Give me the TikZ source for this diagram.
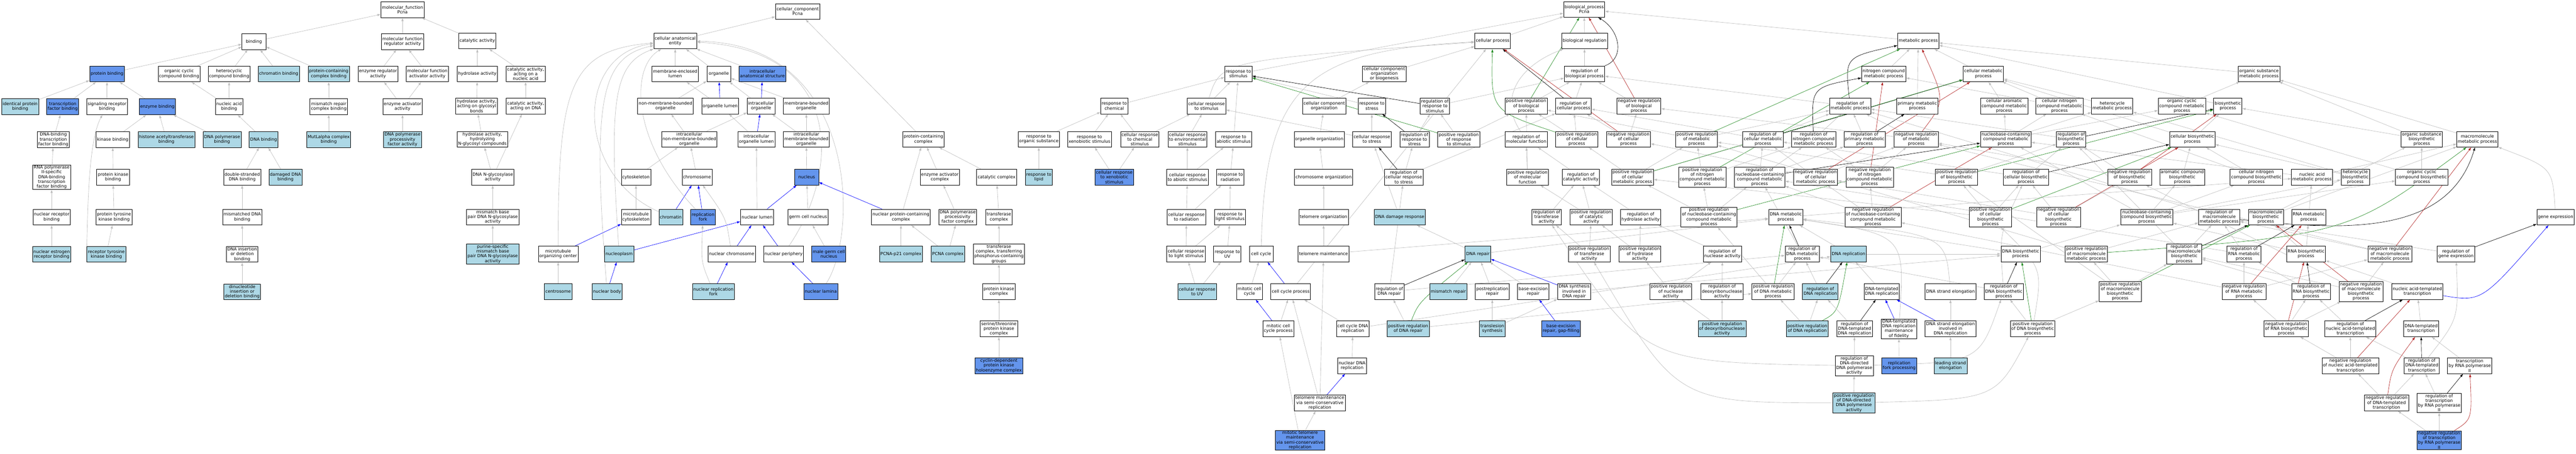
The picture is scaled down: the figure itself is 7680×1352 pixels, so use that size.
\documentclass[tikz,border=0pt]{standalone}
\usepackage{fontspec}
\setmainfont{DejaVu Sans}
\usetikzlibrary{arrows.meta}
\definecolor{termlight}{HTML}{ADD8E6}
\definecolor{termdark}{HTML}{6495ED}
\definecolor{edgegray}{HTML}{BEBEBE}
\definecolor{partblue}{HTML}{0000FF}
\definecolor{posgreen}{HTML}{228B22}
\definecolor{negred}{HTML}{B22222}
\pgfdeclarelayer{edges}
\pgfsetlayers{edges,main}
\tikzset{%
	term/.style   = {draw, line width=1pt, fill=white, align=center, minimum width=71pt, minimum height=47pt, inner xsep=3pt, inner ysep=2pt, font=\fontsize{12.8}{14.2}\selectfont},
	lbterm/.style = {term, fill=termlight},
	rbterm/.style = {term, fill=termdark},
	isa/.style    = {draw=edgegray, line width=1pt, -{Latex[length=10pt,width=7pt]}},
	partof/.style = {isa, draw=partblue},
	regul/.style  = {isa, draw=black},
	posreg/.style = {isa, draw=posgreen},
	negreg/.style = {isa, draw=negred},
}
\begin{document}
\begin{tikzpicture}[x=1pt,y=-1pt]
	\useasboundingbox (0,0) rectangle (7680,1352);
	\begin{pgfonlayer}{edges}
	\fill[white] (0,0) rectangle (7680,1352);
	\end{pgfonlayer}
	
	% molecular function
	\node[term] (mf) at (1200,29) {molecular\_function\\Pcna};
	\node[term] (bind) at (757,124) {binding};
	\node[term] (mfra) at (1200,124) {molecular function\\regulator activity};
	\node[term] (catact) at (1423,122) {catalytic activity};
	\node[rbterm] (pb) at (319,220) {protein binding};
	\node[term] (occb) at (534,220) {organic cyclic\\compound binding};
	\node[term] (hcb) at (683,220) {heterocyclic\\compound binding};
	\node[lbterm] (chrb) at (831,220) {chromatin binding};
	\node[lbterm] (pccb) at (980,220) {protein-containing\\complex binding};
	\node[term] (era) at (1127,220) {enzyme regulator\\activity};
	\node[term] (mfaa) at (1274,220) {molecular function\\activator activity};
	\node[lbterm] (ipb) at (60,318) {identical protein\\binding};
	\node[rbterm] (tfb) at (187,318) {transcription\\factor binding};
	\node[term] (srb) at (319,318) {signaling receptor\\binding};
	\node[rbterm] (eb) at (469,318) {enzyme binding};
	\node[term] (nab) at (683,318) {nucleic acid\\binding};
	\node[term] (mrcb) at (980,318) {mismatch repair\\complex binding};
	\node[term] (eaa) at (1200,318) {enzyme activator\\activity};
	\node[term] (dbtfb) at (159,416) {DNA-binding\\transcription\\factor binding};
	\node[term] (kb) at (336,416) {kinase binding};
	\node[lbterm] (hatb) at (496,416) {histone acetyltransferase\\binding};
	\node[lbterm] (dpb) at (662,416) {DNA polymerase\\binding};
	\node[lbterm] (db) at (786,416) {DNA binding};
	\node[lbterm] (mutl) at (980,416) {MutLalpha complex\\binding};
	\node[lbterm] (dppfa) at (1200,416) {DNA polymerase\\processivity\\factor activity};
	\node[term] (rp2tfb) at (154,528) {RNA polymerase\\II-specific\\DNA-binding\\transcription\\factor binding};
	\node[term] (pkb) at (337,528) {protein kinase\\binding};
	\node[term] (dsdb) at (722,528) {double-stranded\\DNA binding};
	\node[lbterm] (ddb) at (851,528) {damaged DNA\\binding};
	\node[term] (nrb) at (154,647) {nuclear receptor\\binding};
	\node[term] (ptkb) at (340,647) {protein tyrosine\\kinase binding};
	\node[term] (mmdb) at (722,647) {mismatched DNA\\binding};
	\node[lbterm] (nerb) at (154,758) {nuclear estrogen\\receptor binding};
	\node[lbterm] (rtkb) at (317,758) {receptor tyrosine\\kinase binding};
	\node[term] (didb) at (722,758) {DNA insertion\\or deletion\\binding};
	\node[lbterm] (dnidb) at (722,870) {dinucleotide\\insertion or\\deletion binding};
	
	% catalytic activity
	\node[term] (hydact) at (1423,220) {hydrolase activity};
	\node[term] (canuc) at (1567,220) {catalytic activity,\\acting on a\\nucleic acid};
	\node[term] (hagb) at (1421,316) {hydrolase activity,\\acting on glycosyl\\bonds};
	\node[term] (cadna) at (1567,316) {catalytic activity,\\acting on DNA};
	\node[term] (hnglyc) at (1438,415) {hydrolase activity,\\hydrolyzing\\N-glycosyl compounds};
	\node[term] (dnag) at (1469,528) {DNA N-glycosylase\\activity};
	\node[term] (mmbp) at (1469,647) {mismatch base\\pair DNA N-glycosylase\\activity};
	\node[lbterm] (psmbp) at (1469,757) {purine-specific\\mismatch base\\pair DNA N-glycosylase\\activity};
	
	% cellular component
	\node[term] (ccomp) at (2378,34) {cellular\_component\\Pcna};
	\node[term] (cae) at (2013,122) {cellular anatomical\\entity};
	\node[term] (mel) at (2013,220) {membrane-enclosed\\lumen};
	\node[term] (org) at (2143,220) {organelle};
	\node[rbterm] (ias) at (2273,220) {intracellular\\anatomical structure};
	\node[term] (nmbo) at (1984,316) {non-membrane-bounded\\organelle};
	\node[term] (orgl) at (2147,316) {organelle lumen};
	\node[term] (io) at (2269,316) {intracellular\\organelle};
	\node[term] (mbo) at (2404,316) {membrane-bounded\\organelle};
	\node[term] (inmbo) at (2055,415) {intracellular\\non-membrane-bounded\\organelle};
	\node[term] (iol) at (2255,415) {intracellular\\organelle lumen};
	\node[term] (imbo) at (2404,415) {intracellular\\membrane-bounded\\organelle};
	\node[term] (cysk) at (1896,528) {cytoskeleton};
	\node[term] (chrom) at (2078,528) {chromosome};
	\node[rbterm] (nucl) at (2405,528) {nucleus};
	\node[term] (mtcysk) at (1896,647) {microtubule\\cytoskeleton};
	\node[lbterm] (chrtin) at (2000,647) {chromatin};
	\node[rbterm] (rfork) at (2096,647) {replication\\fork};
	\node[term] (nlumen) at (2257,647) {nuclear lumen};
	\node[term] (gcn) at (2409,647) {germ cell nucleus};
	\node[term] (mtoc) at (1664,757) {microtubule\\organizing center};
	\node[lbterm] (nplasm) at (1846,757) {nucleoplasm};
	\node[term] (nchrom) at (2181,757) {nuclear chromosome};
	\node[term] (nper) at (2336,757) {nuclear periphery};
	\node[rbterm] (mgcn) at (2471,757) {male germ cell\\nucleus};
	\node[lbterm] (csome) at (1664,869) {centrosome};
	\node[lbterm] (nbody) at (1810,869) {nuclear body};
	\node[lbterm] (nrfork) at (2127,869) {nuclear replication\\fork};
	\node[rbterm] (nlam) at (2447,869) {nuclear lamina};
	\node[term] (pcc) at (2753,415) {protein-containing\\complex};
	\node[term] (eac) at (2802,528) {enzyme activator\\complex};
	\node[term] (catc) at (2971,528) {catalytic complex};
	\node[term] (npcc) at (2686,647) {nuclear protein-containing\\complex};
	\node[term] (dppfc) at (2855,647) {DNA polymerase\\processivity\\factor complex};
	\node[term] (trc) at (2978,647) {transferase\\complex};
	\node[lbterm] (p21) at (2686,757) {PCNA-p21 complex};
	\node[lbterm] (pcnac) at (2826,757) {PCNA complex};
	\node[term] (trcp) at (2978,757) {transferase\\complex, transferring\\phosphorus-containing\\groups};
	\node[term] (pkc) at (2978,869) {protein kinase\\complex};
	\node[term] (stpkc) at (2978,980) {serine/threonine\\protein kinase\\complex};
	\node[rbterm] (cdk) at (2978,1090) {cyclin-dependent\\protein kinase\\holoenzyme complex};
	
	% biological process: responses
	\node[term] (rstim) at (3692,220) {response to\\stimulus};
	\node[term] (rchem) at (3322,316) {response to\\chemical};
	\node[term] (crstim) at (3597,316) {cellular response\\to stimulus};
	\node[term] (rorg) at (3097,415) {response to\\organic substance};
	\node[term] (rxeno) at (3248,415) {response to\\xenobiotic stimulus};
	\node[term] (crchem) at (3398,415) {cellular response\\to chemical\\stimulus};
	\node[term] (crenv) at (3540,415) {cellular response\\to environmental\\stimulus};
	\node[term] (rabio) at (3678,415) {response to\\abiotic stimulus};
	\node[lbterm] (rlipid) at (3097,528) {response to\\lipid};
	\node[rbterm] (crxeno) at (3322,528) {cellular response\\to xenobiotic\\stimulus};
	\node[term] (crabio) at (3540,528) {cellular response\\to abiotic stimulus};
	\node[term] (rrad) at (3668,528) {response to\\radiation};
	\node[term] (crrad) at (3537,647) {cellular response\\to radiation};
	\node[term] (rlight) at (3667,647) {response to\\light stimulus};
	\node[term] (crlight) at (3536,757) {cellular response\\to light stimulus};
	\node[term] (ruv) at (3659,757) {response to\\UV};
	\node[lbterm] (cruv) at (3569,869) {cellular response\\to UV};
	\node[term] (cc) at (3760,757) {cell cycle};
	\node[term] (mcc) at (3725,869) {mitotic cell\\cycle};
	\node[term] (ccp) at (3848,869) {cell cycle process};
	\node[term] (mccp) at (3811,980) {mitotic cell\\cycle process};
	\node[rbterm] (mtmsc) at (3876,1312) {mitotic telomere\\maintenance\\via semi-conservative\\replication};
	
	% biological process: upper levels
	\node[term] (bp) at (4723,28) {biological\_process\\Pcna};
	\node[term] (cp) at (4450,122) {cellular process};
	\node[term] (breg) at (4724,122) {biological regulation};
	\node[term] (ccob) at (4127,220) {cellular component\\organization\\or biogenesis};
	\node[term] (rbp) at (4724,220) {regulation of\\biological process};
	\node[term] (cco) at (3948,316) {cellular component\\organization};
	\node[term] (rstress) at (4090,316) {response to\\stress};
	\node[term] (rrs) at (4278,316) {regulation of\\response to\\stimulus};
	\node[term] (prbp) at (4550,316) {positive regulation\\of biological\\process};
	\node[term] (rcp) at (4691,316) {regulation of\\cellular process};
	\node[term] (nrbp) at (4886,316) {negative regulation\\of biological\\process};
	\node[term] (oo) at (3933,415) {organelle organization};
	\node[term] (crstress) at (4090,415) {cellular response\\to stress};
	\node[term] (rrstress) at (4217,415) {regulation of\\response to\\stress};
	\node[term] (prrs) at (4349,415) {positive regulation\\of response\\to stimulus};
	\node[term] (rmf) at (4550,415) {regulation of\\molecular function};
	\node[term] (prcp) at (4701,415) {positive regulation\\of cellular\\process};
	\node[term] (nrcp) at (4855,415) {negative regulation\\of cellular\\process};
	\node[term] (prmp) at (5058,415) {positive regulation\\of metabolic\\process};
	\node[term] (chro) at (3946,528) {chromosome organization};
	\node[term] (rcrs) at (4185,528) {regulation of\\cellular response\\to stress};
	\node[term] (prmf) at (4554,528) {positive regulation\\of molecular\\function};
	\node[term] (rca) at (4713,528) {regulation of\\catalytic activity};
	\node[term] (prcmp) at (4867,528) {positive regulation\\of cellular\\metabolic process};
	\node[term] (prncmp) at (5075,528) {positive regulation\\of nitrogen\\compound metabolic\\process};
	\node[term] (telo) at (3946,647) {telomere organization};
	\node[lbterm] (ddr) at (4173,647) {DNA damage response};
	\node[term] (rta) at (4611,647) {regulation of\\transferase\\activity};
	\node[term] (prca) at (4744,647) {positive regulation\\of catalytic\\activity};
	\node[term] (rha) at (4891,647) {regulation of\\hydrolase activity};
	\node[term] (prnbcmp) at (5095,647) {positive regulation\\of nucleobase-containing\\compound metabolic\\process};
	\node[term] (telm) at (3946,757) {telomere maintenance};
	\node[lbterm] (drep) at (4406,757) {DNA repair};
	\node[term] (prta) at (4738,757) {positive regulation\\of transferase\\activity};
	\node[term] (prha) at (4889,757) {positive regulation\\of hydrolase\\activity};
	\node[term] (rnuc) at (5135,757) {regulation of\\nuclease activity};
	\node[term] (rdrep) at (4142,869) {regulation of\\DNA repair};
	\node[lbterm] (mmr) at (4318,869) {mismatch repair};
	\node[term] (prr) at (4449,869) {postreplication\\repair};
	\node[term] (ber) at (4571,869) {base-excision\\repair};
	\node[term] (dsdr) at (4693,869) {DNA synthesis\\involved in\\DNA repair};
	\node[term] (prnuc) at (4981,869) {positive regulation\\of nuclease\\activity};
	\node[term] (rdnase) at (5134,869) {regulation of\\deoxyribonuclease\\activity};
	\node[term] (ccdr) at (4033,980) {cell cycle DNA\\replication};
	\node[lbterm] (prdrep) at (4198,980) {positive regulation\\of DNA repair};
	\node[lbterm] (tls) at (4449,980) {translesion\\synthesis};
	\node[rbterm] (bergf) at (4654,980) {base-excision\\repair, gap-filling};
	\node[lbterm] (prdnase) at (5134,980) {positive regulation\\of deoxyribonuclease\\activity};
	\node[term] (ndr) at (4031,1090) {nuclear DNA\\replication};
	\node[term] (tmsc) at (3935,1201) {telomere maintenance\\via semi-conservative\\replication};
	
	% biological process: metabolism
	\node[term] (mp) at (5719,122) {metabolic process};
	\node[term] (ncmp) at (5616,220) {nitrogen compound\\metabolic process};
	\node[term] (cmp) at (5913,220) {cellular metabolic\\process};
	\node[term] (osmp) at (6735,220) {organic substance\\metabolic process};
	\node[term] (rmp) at (5516,316) {regulation of\\metabolic process};
	\node[term] (pmp) at (5716,316) {primary metabolic\\process};
	\node[term] (cacmp) at (5975,316) {cellular aromatic\\compound metabolic\\process};
	\node[term] (cncmp) at (6140,316) {cellular nitrogen\\compound metabolic\\process};
	\node[term] (hmp) at (6297,316) {heterocycle\\metabolic process};
	\node[term] (occmp) at (6505,316) {organic cyclic\\compound metabolic\\process};
	\node[term] (bsp) at (6642,316) {biosynthetic\\process};
	\node[term] (rcmp) at (5256,415) {regulation of\\cellular metabolic\\process};
	\node[term] (rncmp) at (5407,415) {regulation of\\nitrogen compound\\metabolic process};
	\node[term] (rpmp) at (5559,415) {regulation of\\primary metabolic\\process};
	\node[term] (nrmp) at (5713,415) {negative regulation\\of metabolic\\process};
	\node[term] (nbcmp) at (5980,415) {nucleobase-containing\\compound metabolic\\process};
	\node[term] (rbsp) at (6175,415) {regulation of\\biosynthetic\\process};
	\node[term] (cbsp) at (6536,415) {cellular biosynthetic\\process};
	\node[term] (osbsp) at (7220,415) {organic substance\\biosynthetic\\process};
	\node[term] (mmp) at (7386,415) {macromolecule\\metabolic process};
	\node[term] (rnbcmp) at (5246,528) {regulation of\\nucleobase-containing\\compound metabolic\\process};
	\node[term] (nrcmp) at (5413,528) {negative regulation\\of cellular\\metabolic process};
	\node[term] (nrncmp) at (5574,528) {negative regulation\\of nitrogen\\compound metabolic\\process};
	\node[term] (prbsp) at (5833,528) {positive regulation\\of biosynthetic\\process};
	\node[term] (rcbsp) at (6040,528) {regulation of\\cellular biosynthetic\\process};
	\node[term] (nrbsp) at (6349,528) {negative regulation\\of biosynthetic\\process};
	\node[term] (acbsp) at (6506,528) {aromatic compound\\biosynthetic\\process};
	\node[term] (cncbsp) at (6727,528) {cellular nitrogen\\compound biosynthetic\\process};
	\node[term] (namp) at (6893,528) {nucleic acid\\metabolic process};
	\node[term] (hbsp) at (7022,528) {heterocycle\\biosynthetic\\process};
	\node[term] (occbsp) at (7220,528) {organic cyclic\\compound biosynthetic\\process};
	\node[term] (dmp) at (5324,647) {DNA metabolic\\process};
	\node[term] (nrnbcmp) at (5584,647) {negative regulation\\of nucleobase-containing\\compound metabolic\\process};
	\node[term] (prcbsp) at (5934,647) {positive regulation\\of cellular\\biosynthetic\\process};
	\node[term] (nrcbsp) at (6137,647) {negative regulation\\of cellular\\biosynthetic\\process};
	\node[term] (nbcbsp) at (6400,647) {nucleobase-containing\\compound biosynthetic\\process};
	\node[term] (rmmp) at (6616,647) {regulation of\\macromolecule\\metabolic process};
	\node[term] (mbsp) at (6755,647) {macromolecule\\biosynthetic\\process};
	\node[term] (rnamp) at (6883,647) {RNA metabolic\\process};
	\node[term] (gexp) at (7619,647) {gene expression};
	\node[term] (rdmp) at (5373,757) {regulation of\\DNA metabolic\\process};
	\node[lbterm] (dnarep) at (5511,757) {DNA replication};
	\node[term] (dbsp) at (6024,757) {DNA biosynthetic\\process};
	\node[term] (prmmp) at (6220,757) {positive regulation\\of macromolecule\\metabolic process};
	\node[term] (rmbsp) at (6512,757) {regulation of\\macromolecule\\biosynthetic\\process};
	\node[term] (rrnamp) at (6690,757) {regulation of\\RNA metabolic\\process};
	\node[term] (rnabsp) at (6875,757) {RNA biosynthetic\\process};
	\node[term] (nrmmp) at (7125,757) {negative regulation\\of macromolecule\\metabolic process};
	\node[term] (rgexp) at (7322,757) {regulation of\\gene expression};
	\node[term] (prdmp) at (5286,869) {positive regulation\\of DNA metabolic\\process};
	\node[lbterm] (rdrepl) at (5427,869) {regulation of\\DNA replication};
	\node[term] (dtdr) at (5610,869) {DNA-templated\\DNA replication};
	\node[term] (dse) at (5815,869) {DNA strand elongation};
	\node[term] (rdbsp) at (5974,869) {regulation of\\DNA biosynthetic\\process};
	\node[term] (prmbsp) at (6321,869) {positive regulation\\of macromolecule\\biosynthetic\\process};
	\node[term] (nrrnamp) at (6690,869) {negative regulation\\of RNA metabolic\\process};
	\node[term] (rrnabsp) at (6890,869) {regulation of\\RNA biosynthetic\\process};
	\node[term] (nrmbsp) at (7039,869) {negative regulation\\of macromolecule\\biosynthetic\\process};
	\node[term] (natt) at (7207,869) {nucleic acid-templated\\transcription};
	\node[lbterm] (prdrepl) at (5388,980) {positive regulation\\of DNA replication};
	\node[term] (rdtdr) at (5529,980) {regulation of\\DNA-templated\\DNA replication};
	\node[term] (dtdrmf) at (5661,980) {DNA-templated\\DNA replication\\maintenance\\of fidelity};
	\node[term] (dseidr) at (5815,980) {DNA strand elongation\\involved in\\DNA replication};
	\node[term] (prdbsp) at (6060,980) {positive regulation\\of DNA biosynthetic\\process};
	\node[term] (nrrnabsp) at (6816,980) {negative regulation\\of RNA biosynthetic\\process};
	\node[term] (rnatt) at (7007,980) {regulation of\\nucleic acid-templated\\transcription};
	\node[term] (dtt) at (7218,980) {DNA-templated\\transcription};
	\node[term] (rddpa) at (5528,1090) {regulation of\\DNA-directed\\DNA polymerase\\activity};
	\node[rbterm] (rfp) at (5662,1090) {replication\\fork processing};
	\node[lbterm] (lse) at (5815,1090) {leading strand\\elongation};
	\node[term] (nrnatt) at (7007,1090) {negative regulation\\of nucleic acid-templated\\transcription};
	\node[term] (rdtt) at (7220,1090) {regulation of\\DNA-templated\\transcription};
	\node[term] (trp2) at (7363,1090) {transcription\\by RNA polymerase\\II};
	\node[lbterm] (prddpa) at (5527,1201) {positive regulation\\of DNA-directed\\DNA polymerase\\activity};
	\node[term] (nrdtt) at (7115,1201) {negative regulation\\of DNA-templated\\transcription};
	\node[term] (rtrp2) at (7272,1201) {regulation of\\transcription\\by RNA polymerase\\II};
	\node[rbterm] (nrtrp2) at (7272,1312) {negative regulation\\of transcription\\by RNA polymerase\\II};
	
	\begin{pgfonlayer}{edges}
	% molecular function edges
	\draw[isa] (bind) -- (mf);
	\draw[isa] (mfra) -- (mf);
	\draw[isa] (catact) -- (mf);
	\draw[isa] (pb) -- (bind);
	\draw[isa] (occb) -- (bind);
	\draw[isa] (hcb) -- (bind);
	\draw[isa] (chrb) -- (bind);
	\draw[isa] (pccb) -- (bind);
	\draw[isa] (era) -- (mfra);
	\draw[isa] (mfaa) -- (mfra);
	\draw[isa] (ipb) -- (pb);
	\draw[isa] (tfb) -- (pb);
	\draw[isa] (srb) -- (pb);
	\draw[isa] (eb) -- (pb);
	\draw[isa] (nab) -- (occb);
	\draw[isa] (nab) -- (hcb);
	\draw[isa] (mrcb) -- (pccb);
	\draw[isa] (eaa) -- (era);
	\draw[isa] (eaa) -- (mfaa);
	\draw[isa] (dbtfb) -- (tfb);
	\draw[isa] (kb) -- (eb);
	\draw[isa] (hatb) -- (eb);
	\draw[isa] (dpb) -- (eb);
	\draw[isa] (db) -- (nab);
	\draw[isa] (mutl) -- (mrcb);
	\draw[isa] (dppfa) -- (eaa);
	\draw[isa] (rp2tfb) -- (dbtfb);
	\draw[isa] (pkb) -- (kb);
	\draw[isa] (dsdb) -- (db);
	\draw[isa] (ddb) -- (db);
	\draw[isa] (nrb) -- (rp2tfb);
	\draw[isa] (ptkb) -- (pkb);
	\draw[isa] (mmdb) -- (dsdb);
	\draw[isa] (nerb) -- (nrb);
	\draw[isa] (rtkb) -- (ptkb);
	\draw[isa] (rtkb.north west) .. controls (262,640) and (262,420) .. (srb);
	\draw[isa] (didb) -- (mmdb);
	\draw[isa] (dnidb) -- (didb);
	\draw[isa] (hydact) -- (catact);
	\draw[isa] (canuc) -- (catact);
	\draw[isa] (hagb) -- (hydact);
	\draw[isa] (cadna) -- (canuc);
	\draw[isa] (hnglyc) -- (hagb);
	\draw[isa] (dnag) -- (hnglyc);
	\draw[isa] (dnag) -- (cadna);
	\draw[isa] (mmbp) -- (dnag);
	\draw[isa] (psmbp) -- (mmbp);
	
	% cellular component edges
	\draw[isa] (cae) -- (ccomp);
	\draw[isa] (pcc) -- (ccomp);
	\draw[isa] (mel) -- (cae);
	\draw[isa] (org) -- (cae);
	\draw[isa] (ias) -- (cae);
	\draw[isa] (nmbo) -- (org);
	\draw[isa] (orgl) -- (mel);
	\draw[partof] (orgl) -- (org);
	\draw[isa] (io) -- (org);
	\draw[partof] (io) -- (ias);
	\draw[isa] (mbo) -- (org);
	\draw[isa] (inmbo) -- (nmbo);
	\draw[isa] (inmbo) -- (io);
	\draw[isa] (iol) -- (orgl);
	\draw[partof] (iol) -- (io);
	\draw[isa] (imbo) -- (mbo);
	\draw[isa] (imbo) -- (io);
	\draw[isa] (cysk) -- (inmbo);
	\draw[isa] (chrom) -- (inmbo);
	\draw[isa] (nucl) -- (imbo);
	\draw[isa] (mtcysk) -- (cysk);
	\draw[partof] (chrtin) -- (chrom);
	\draw[isa] (chrtin) .. controls (1713,520) and (1713,160) .. (cae);
	\draw[partof] (rfork) -- (chrom);
	\draw[isa] (rfork) .. controls (1880,420) and (1880,200) .. (cae);
	\draw[isa] (nlumen) -- (iol);
	\draw[partof] (nlumen) -- (nucl);
	\draw[isa] (gcn) -- (nucl);
	\draw[partof] (mtoc) -- (mtcysk);
	\draw[isa] (mtoc) .. controls (1664,250) and (1700,150) .. (cae);
	\draw[partof] (nplasm) -- (nlumen);
	\draw[isa] (nplasm) .. controls (1815,300) and (1830,190) .. (cae);
	\draw[partof] (nchrom) -- (nlumen);
	\draw[isa] (nchrom) .. controls (2165,650) .. (chrom);
	\draw[partof] (nper) -- (nlumen);
	\draw[isa] (nper) .. controls (2510,500) and (2510,150) .. (cae);
	\draw[isa] (mgcn) -- (gcn);
	\draw[isa] (csome) -- (mtoc);
	\draw[partof] (nbody) -- (nplasm);
	\draw[isa] (nbody) .. controls (1765,300) and (1790,170) .. (cae);
	\draw[partof] (nrfork) -- (nchrom);
	\draw[isa] (nrfork) .. controls (2090,780) .. (rfork);
	\draw[partof] (nlam) -- (nper);
	\draw[isa] (nlam) .. controls (2560,700) and (2560,130) .. (cae);
	\draw[partof] (npcc) -- (nucl);
	\draw[isa] (npcc) -- (pcc);
	\draw[isa] (eac) -- (pcc);
	\draw[isa] (catc) -- (pcc);
	\draw[isa] (dppfc) -- (eac);
	\draw[isa] (trc) -- (catc);
	\draw[isa] (p21) -- (npcc);
	\draw[isa] (pcnac) -- (npcc);
	\draw[isa] (pcnac) -- (dppfc);
	\draw[isa] (trcp) -- (trc);
	\draw[isa] (pkc) -- (trcp);
	\draw[isa] (stpkc) -- (pkc);
	\draw[isa] (cdk) -- (stpkc);
	
	% biological process edges
	\draw[isa] (cp) -- (bp);
	\draw[isa] (breg) -- (bp);
	\draw[isa] (rstim) -- (bp);
	\draw[isa] (mp) -- (bp);
	\draw[isa] (rbp) -- (breg);
	\draw[regul] (rbp.north east) .. controls (4845,175) and (4830,90) .. (bp);
	\draw[posreg] (prbp) -- (bp);
	\draw[negreg] (nrbp) -- (bp);
	\draw[isa] (ccob) -- (cp);
	\draw[isa] (cco) -- (ccob);
	\draw[isa] (oo) -- (cco);
	\draw[isa] (chro) -- (oo);
	\draw[isa] (telo) -- (chro);
	\draw[isa] (telm) -- (telo);
	\draw[isa] (telm) -- (dmp);
	\draw[isa] (rstress) -- (rstim);
	\draw[isa] (rchem) -- (rstim);
	\draw[isa] (crstim) -- (rstim);
	\draw[isa] (crstim) .. controls (3640,180) .. (cp);
	\draw[isa] (rabio) -- (rstim);
	\draw[isa] (rorg) -- (rchem);
	\draw[isa] (rxeno) -- (rchem);
	\draw[isa] (crchem) -- (rchem);
	\draw[isa] (crchem) -- (crstim);
	\draw[isa] (crenv) -- (crstim);
	\draw[isa] (rlipid) -- (rorg);
	\draw[isa] (crxeno) -- (rxeno);
	\draw[isa] (crxeno) -- (crchem);
	\draw[isa] (crabio) -- (crenv);
	\draw[isa] (crabio) -- (rabio);
	\draw[isa] (rrad) -- (rabio);
	\draw[isa] (crrad) -- (crabio);
	\draw[isa] (crrad) -- (rrad);
	\draw[isa] (rlight) -- (rrad);
	\draw[isa] (crlight) -- (crrad);
	\draw[isa] (crlight) -- (rlight);
	\draw[isa] (ruv) -- (rlight);
	\draw[isa] (cruv) -- (crlight);
	\draw[isa] (cruv) -- (ruv);
	\draw[isa] (cc) .. controls (3770,250) and (3900,150) .. (cp);
	\draw[isa] (mcc) -- (cc);
	\draw[partof] (ccp) -- (cc);
	\draw[isa] (ccp) -- (cp);
	\draw[partof] (mccp) -- (mcc);
	\draw[isa] (mccp) -- (ccp);
	\draw[isa] (ccdr) -- (ccp);
	\draw[isa] (ccdr) -- (dnarep);
	\draw[isa] (ndr) -- (ccdr);
	\draw[isa] (tmsc) -- (telm);
	\draw[isa] (tmsc) -- (ccp);
	\draw[partof] (tmsc) -- (ndr);
	\draw[isa] (mtmsc) -- (tmsc);
	\draw[isa] (mtmsc) -- (mccp);
	\draw[isa] (crstress) -- (rstress);
	\draw[isa] (crstress) -- (crstim);
	\draw[isa] (ddr) -- (crstress);
	\draw[isa] (drep) -- (ddr);
	\draw[isa] (drep) -- (dmp);
	\draw[isa] (rrs) -- (rbp);
	\draw[regul] (rrs) -- (rstim);
	\draw[isa] (rrstress) -- (rrs);
	\draw[regul] (rrstress) -- (rstress);
	\draw[isa] (prrs) -- (rrs);
	\draw[isa] (prrs) -- (prbp);
	\draw[posreg] (prrs) -- (rstim);
	\draw[isa] (rcrs) -- (rrstress);
	\draw[isa] (rcrs) -- (rcp);
	\draw[regul] (rcrs) -- (crstress);
	\draw[isa] (prbp) -- (rbp);
	\draw[isa] (rcp) -- (rbp);
	\draw[regul] (rcp) -- (cp);
	\draw[isa] (nrbp) -- (rbp);
	\draw[isa] (rmf) .. controls (4470,300) and (4520,200) .. (breg);
	\draw[isa] (prcp) -- (prbp);
	\draw[isa] (prcp) -- (rcp);
	\draw[posreg] (prcp) .. controls (4445,330) .. (cp);
	\draw[isa] (nrcp) -- (nrbp);
	\draw[isa] (nrcp) -- (rcp);
	\draw[negreg] (nrcp) -- (cp);
	\draw[isa] (prmf) -- (rmf);
	\draw[isa] (prmf) -- (prbp);
	\draw[isa] (rca) -- (rmf);
	\draw[isa] (prca) -- (rca);
	\draw[isa] (prca) -- (prmf);
	\draw[isa] (rta) -- (rca);
	\draw[isa] (rha) -- (rca);
	\draw[isa] (prta) -- (rta);
	\draw[isa] (prta) -- (prca);
	\draw[isa] (prha) -- (rha);
	\draw[isa] (prha) -- (prca);
	\draw[isa] (rnuc) -- (rha);
	\draw[isa] (prnuc) -- (rnuc);
	\draw[isa] (prnuc) -- (prha);
	\draw[isa] (rdnase) -- (rnuc);
	\draw[isa] (prdnase) -- (rdnase);
	\draw[isa] (prdnase) -- (prnuc);
	\draw[isa] (rdrep) -- (rcrs);
	\draw[isa] (rdrep) -- (rdmp);
	\draw[regul] (rdrep) -- (drep);
	\draw[isa] (prdrep) -- (rdrep);
	\draw[isa] (prdrep) -- (prdmp);
	\draw[posreg] (prdrep) .. controls (4230,900) .. (drep);
	\draw[isa] (mmr) -- (drep);
	\draw[isa] (prr) -- (drep);
	\draw[isa] (ber) -- (drep);
	\draw[partof] (dsdr) -- (drep);
	\draw[isa] (dsdr) -- (dbsp);
	\draw[isa] (tls) -- (prr);
	\draw[isa] (tls) -- (dsdr);
	\draw[partof] (bergf) -- (ber);
	
	% metabolism edges
	\draw[isa] (ncmp) -- (mp);
	\draw[isa] (cmp) -- (mp);
	\draw[isa] (pmp) -- (mp);
	\draw[isa] (osmp) -- (mp);
	\draw[isa] (bsp) -- (mp);
	\draw[isa] (cacmp) -- (cmp);
	\draw[isa] (cncmp) -- (cmp);
	\draw[isa] (cncmp) -- (ncmp);
	\draw[isa] (hmp) -- (cmp);
	\draw[isa] (occmp) -- (osmp);
	\draw[isa] (osbsp) -- (bsp);
	\draw[isa] (osbsp) -- (osmp);
	\draw[isa] (mmp) -- (osmp);
	\draw[isa] (nbcmp) -- (cacmp);
	\draw[isa] (nbcmp) -- (cncmp);
	\draw[isa] (nbcmp) -- (hmp);
	\draw[isa] (nbcmp) -- (occmp);
	\draw[isa] (cbsp) -- (bsp);
	\draw[isa] (cbsp) -- (cmp);
	\draw[isa] (acbsp) -- (cbsp);
	\draw[isa] (cncbsp) -- (cbsp);
	\draw[isa] (cncbsp) -- (cncmp);
	\draw[isa] (hbsp) -- (cbsp);
	\draw[isa] (hbsp) -- (hmp);
	\draw[isa] (occbsp) -- (osbsp);
	\draw[isa] (occbsp) -- (occmp);
	\draw[isa] (namp) -- (nbcmp);
	\draw[isa] (namp) -- (mmp);
	\draw[isa] (nbcbsp) -- (nbcmp);
	\draw[isa] (nbcbsp) -- (cncbsp);
	\draw[isa] (nbcbsp) -- (acbsp);
	\draw[isa] (nbcbsp) -- (hbsp);
	\draw[isa] (nbcbsp) -- (occbsp);
	\draw[isa] (dmp) -- (namp);
	\draw[isa] (rnamp) -- (namp);
	\draw[isa] (mbsp) -- (mmp);
	\draw[isa] (mbsp) -- (osbsp);
	\draw[isa] (rnabsp) -- (rnamp);
	\draw[isa] (rnabsp) -- (mbsp);
	\draw[isa] (rnabsp) -- (nbcbsp);
	\draw[isa] (natt) -- (rnabsp);
	\draw[partof] (natt) .. controls (7400,900) .. (gexp);
	\draw[isa] (dtt) -- (natt);
	\draw[isa] (trp2) -- (dtt);
	\draw[isa] (gexp) .. controls (7610,500) .. (mmp);
	\draw[isa] (dnarep) -- (dmp);
	\draw[isa] (dnarep) -- (dbsp);
	\draw[isa] (dtdr) -- (dnarep);
	\draw[isa] (dse) .. controls (5800,700) .. (dmp);
	\draw[isa] (dseidr) -- (dse);
	\draw[partof] (dseidr) -- (dtdr);
	\draw[isa] (lse) -- (dseidr);
	\draw[isa] (rfp) -- (dtdrmf);
	\draw[partof] (dtdrmf) -- (dtdr);
	\draw[isa] (dtdrmf) .. controls (5680,700) .. (dmp);
	\draw[isa] (dbsp) -- (dmp);
	\draw[isa] (dbsp) -- (nbcbsp);
	\draw[isa] (rmp) -- (rbp);
	\draw[regul] (rmp) .. controls (5500,170) .. (mp);
	\draw[isa] (rcmp) -- (rmp);
	\draw[isa] (rcmp) -- (rcp);
	\draw[regul] (rcmp) -- (cmp);
	\draw[isa] (rncmp) -- (rmp);
	\draw[regul] (rncmp) .. controls (5400,260) .. (ncmp);
	\draw[isa] (rpmp) -- (rmp);
	\draw[regul] (rpmp) -- (pmp);
	\draw[isa] (nrmp) -- (rmp);
	\draw[isa] (nrmp) -- (nrbp);
	\draw[negreg] (nrmp) .. controls (5800,300) .. (mp);
	\draw[isa] (prmp) -- (rmp);
	\draw[isa] (prmp) -- (prbp);
	\draw[posreg] (prmp) -- (mp);
	\draw[isa] (rnbcmp) -- (rcmp);
	\draw[isa] (rnbcmp) -- (rncmp);
	\draw[isa] (rnbcmp) -- (rpmp);
	\draw[regul] (rnbcmp) -- (nbcmp);
	\draw[isa] (nrcmp) -- (rcmp);
	\draw[isa] (nrcmp) -- (nrmp);
	\draw[isa] (nrcmp) -- (nrcp);
	\draw[negreg] (nrcmp) -- (cmp);
	\draw[isa] (nrncmp) -- (rncmp);
	\draw[isa] (nrncmp) -- (nrmp);
	\draw[negreg] (nrncmp) -- (ncmp);
	\draw[isa] (prcmp) -- (prmp);
	\draw[isa] (prcmp) -- (rcmp);
	\draw[isa] (prcmp) -- (prcp);
	\draw[posreg] (prcmp) -- (cmp);
	\draw[isa] (prncmp) -- (prmp);
	\draw[isa] (prncmp) -- (rncmp);
	\draw[posreg] (prncmp) -- (ncmp);
	\draw[isa] (prnbcmp) -- (rnbcmp);
	\draw[isa] (prnbcmp) -- (prcmp);
	\draw[isa] (prnbcmp) -- (prncmp);
	\draw[posreg] (prnbcmp) -- (nbcmp);
	\draw[isa] (nrnbcmp) -- (rnbcmp);
	\draw[isa] (nrnbcmp) -- (nrcmp);
	\draw[isa] (nrnbcmp) -- (nrncmp);
	\draw[negreg] (nrnbcmp) -- (nbcmp);
	\draw[isa] (rbsp) -- (rmp);
	\draw[regul] (rbsp) -- (bsp);
	\draw[isa] (rcbsp) -- (rbsp);
	\draw[isa] (rcbsp) -- (rcmp);
	\draw[regul] (rcbsp) -- (cbsp);
	\draw[isa] (prbsp) -- (rbsp);
	\draw[isa] (prbsp) -- (prmp);
	\draw[posreg] (prbsp) -- (bsp);
	\draw[isa] (nrbsp) -- (rbsp);
	\draw[isa] (nrbsp) -- (nrmp);
	\draw[negreg] (nrbsp) -- (bsp);
	\draw[isa] (prcbsp) -- (prbsp);
	\draw[isa] (prcbsp) -- (rcbsp);
	\draw[isa] (prcbsp) -- (prcmp);
	\draw[posreg] (prcbsp) -- (cbsp);
	\draw[isa] (nrcbsp) -- (nrbsp);
	\draw[isa] (nrcbsp) -- (rcbsp);
	\draw[isa] (nrcbsp) -- (nrcmp);
	\draw[negreg] (nrcbsp) -- (cbsp);
	\draw[isa] (rdmp) -- (rnbcmp);
	\draw[regul] (rdmp) -- (dmp);
	\draw[isa] (prdmp) -- (rdmp);
	\draw[isa] (prdmp) -- (prnbcmp);
	\draw[posreg] (prdmp) -- (dmp);
	\draw[isa] (rdrepl) -- (rdmp);
	\draw[regul] (rdrepl) -- (dnarep);
	\draw[isa] (prdrepl) -- (rdrepl);
	\draw[isa] (prdrepl) -- (prdmp);
	\draw[posreg] (prdrepl) .. controls (5480,930) .. (dnarep);
	\draw[isa] (rdtdr) -- (rdrepl);
	\draw[regul] (rdtdr) -- (dtdr);
	\draw[isa] (rddpa) -- (rdtdr);
	\draw[isa] (rddpa) .. controls (4900,1080) .. (rta);
	\draw[isa] (rddpa) .. controls (5900,1080) .. (rdbsp);
	\draw[isa] (prddpa) -- (rddpa);
	\draw[isa] (prddpa) .. controls (5000,1200) .. (prta);
	\draw[isa] (prddpa) .. controls (5950,1190) .. (prdbsp);
	\draw[isa] (rdbsp) -- (rdmp);
	\draw[isa] (rdbsp) .. controls (5960,700) .. (rcbsp);
	\draw[regul] (rdbsp) -- (dbsp);
	\draw[isa] (prdbsp) -- (rdbsp);
	\draw[isa] (prdbsp) .. controls (6090,800) .. (prcbsp);
	\draw[isa] (prdbsp) -- (prmbsp);
	\draw[posreg] (prdbsp) -- (dbsp);
	\draw[isa] (rmmp) -- (rmp);
	\draw[regul] (rmmp) .. controls (7000,690) and (7300,700) .. (mmp);
	\draw[isa] (rmbsp) -- (rmmp);
	\draw[isa] (rmbsp) -- (rbsp);
	\draw[regul] (rmbsp) -- (mbsp);
	\draw[isa] (rgexp) -- (rmmp);
	\draw[regul] (rgexp) -- (gexp);
	\draw[isa] (prmmp) -- (rmmp);
	\draw[isa] (prmmp) -- (prmp);
	\draw[posreg] (prmmp) .. controls (7000,700) .. (mmp);
	\draw[isa] (prmbsp) -- (prmmp);
	\draw[isa] (prmbsp) -- (rmbsp);
	\draw[isa] (prmbsp) -- (prbsp);
	\draw[posreg] (prmbsp) -- (mbsp);
	\draw[isa] (nrmmp) -- (rmmp);
	\draw[isa] (nrmmp) -- (nrmp);
	\draw[negreg] (nrmmp) -- (mmp);
	\draw[isa] (nrmbsp) -- (nrmmp);
	\draw[isa] (nrmbsp) -- (rmbsp);
	\draw[isa] (nrmbsp) -- (nrbsp);
	\draw[negreg] (nrmbsp) -- (mbsp);
	\draw[isa] (rrnamp) -- (rmmp);
	\draw[isa] (rrnamp) -- (rnbcmp);
	\draw[regul] (rrnamp) -- (rnamp);
	\draw[isa] (nrrnamp) -- (rrnamp);
	\draw[isa] (nrrnamp) -- (nrmmp);
	\draw[isa] (nrrnamp) -- (nrnbcmp);
	\draw[negreg] (nrrnamp) -- (rnamp);
	\draw[isa] (rrnabsp) -- (rrnamp);
	\draw[isa] (rrnabsp) -- (rmbsp);
	\draw[regul] (rrnabsp) -- (rnabsp);
	\draw[isa] (nrrnabsp) -- (nrrnamp);
	\draw[isa] (nrrnabsp) -- (rrnabsp);
	\draw[isa] (nrrnabsp) -- (nrmbsp);
	\draw[negreg] (nrrnabsp) -- (rnabsp);
	\draw[isa] (rnatt) -- (rrnabsp);
	\draw[regul] (rnatt) -- (natt);
	\draw[isa] (nrnatt) -- (rnatt);
	\draw[isa] (nrnatt) -- (nrrnabsp);
	\draw[negreg] (nrnatt) -- (natt);
	\draw[isa] (rdtt) -- (rnatt);
	\draw[isa] (rdtt) .. controls (7330,950) .. (rgexp);
	\draw[regul] (rdtt) -- (dtt);
	\draw[isa] (nrdtt) -- (nrnatt);
	\draw[isa] (nrdtt) -- (rdtt);
	\draw[negreg] (nrdtt) .. controls (7130,1100) .. (dtt);
	\draw[isa] (rtrp2) -- (rdtt);
	\draw[regul] (rtrp2) -- (trp2);
	\draw[isa] (nrtrp2) -- (nrdtt);
	\draw[isa] (nrtrp2) -- (rtrp2);
	\draw[negreg] (nrtrp2) .. controls (7370,1250) .. (trp2);
	\end{pgfonlayer}
\end{tikzpicture}
\end{document}
